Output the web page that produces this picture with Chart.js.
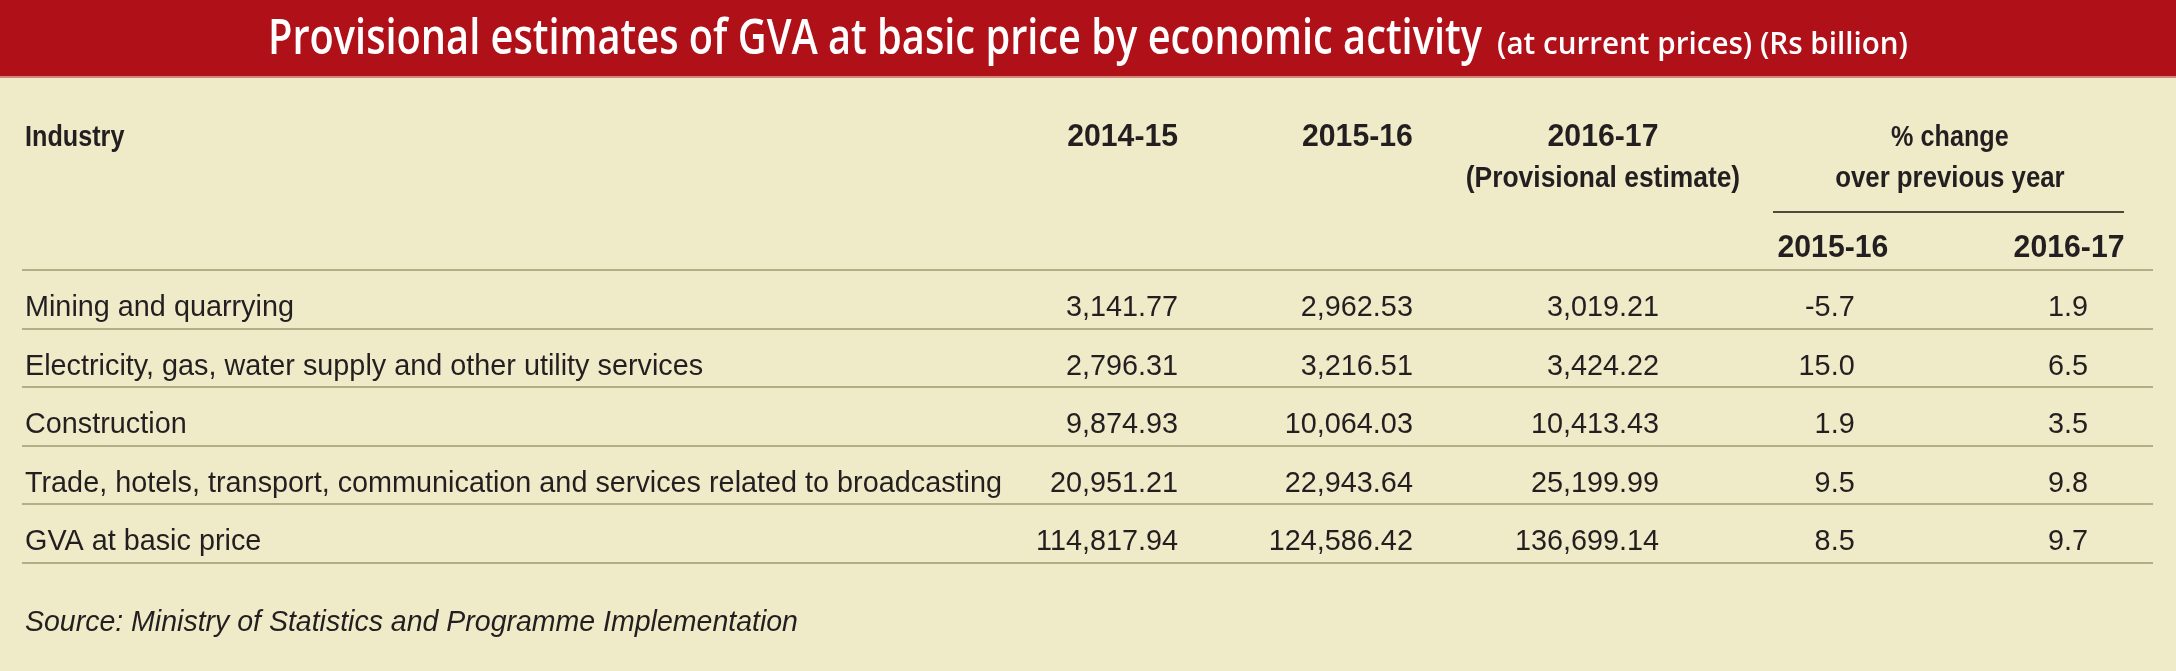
<!DOCTYPE html>
<html lang="en">
<head>
<meta charset="utf-8">
<title>Provisional estimates of GVA at basic price by economic activity</title>
<script src="https://cdn.jsdelivr.net/npm/chart.js@4.4.1/dist/chart.umd.min.js"></script>
<style>
    html, body { margin: 0; padding: 0; background: #efeac8; }
    .chart-box { width: 2176px; height: 671px; position: relative; }
</style>
</head>
<body>
<div class="chart-box"><canvas id="gvaTable"></canvas></div>
<script>
// table data
const industries = [
    'Mining and quarrying',
    'Electricity, gas, water supply and other utility services',
    'Construction',
    'Trade, hotels, transport, communication and services related to broadcasting',
    'GVA at basic price'
];
const gva2014 = [3141.77, 2796.31, 9874.93, 20951.21, 114817.94];
const gva2015 = [2962.53, 3216.51, 10064.03, 22943.64, 124586.42];
const gva2016 = [3019.21, 3424.22, 10413.43, 25199.99, 136699.14];
const change2015 = [-5.7, 15.0, 1.9, 9.5, 8.5];
const change2016 = [1.9, 6.5, 3.5, 9.8, 9.7];
const yearLabels = ['2014-15', '2015-16', '2016-17'];
const changeLabels = ['2015-16', '2016-17'];
const titleMain = 'Provisional estimates of GVA at basic price by economic activity';
const titleUnits = '(at current prices) (Rs billion)';
const sourceText = 'Ministry of Statistics and Programme Implementation';

// column anchors on the x scale (0-100 = table width)
const colPos = {
    industry: 0.14,
    y2014: 54.25,
    y2015: 65.27,
    y2016: 76.82,
    y2016Head: 74.19,
    c2015: 86.0,
    c2015Head: 84.98,
    c2016: 96.95,
    c2016Head: 96.06,
    changeHead: 90.47,
    ruleFrom: 82.17,
    ruleTo: 98.64
};

const INK = '#231f20';
const BODY = '30px "Liberation Sans", Arial, sans-serif';
const HEAD = 'bold 30px "Liberation Sans", Arial, sans-serif';
const HEAD_YEAR = 'bold 31px "Liberation Sans", Arial, sans-serif';
const TITLE_BIG = '600 48px "Open Sans", sans-serif';
const TITLE_SMALL = '600 30px "Open Sans", sans-serif';

function fmtMoney(v) {
    return v.toLocaleString('en-US', { minimumFractionDigits: 2, maximumFractionDigits: 2 });
}

function fmtPct(v) {
    return v.toFixed(1);
}

// text squeezed horizontally to the condensed face of the original
function drawText(ctx, text, x, y, align, font, squash, color) {
    ctx.save();
    ctx.font = font;
    ctx.fillStyle = color || INK;
    ctx.textAlign = align;
    ctx.textBaseline = 'alphabetic';
    ctx.translate(x, y);
    ctx.scale(squash, 1);
    ctx.fillText(text, 0, 0);
    ctx.restore();
}

function textWidth(ctx, text, font) {
    ctx.save();
    ctx.font = font;
    const w = ctx.measureText(text).width;
    ctx.restore();
    return w;
}

// one scatter dataset per table column
function column(pos, texts, align) {
    return {
        data: industries.map(name => ({ x: pos, y: name })),
        cellText: texts,
        cellAlign: align,
        pointRadius: 0,
        pointHoverRadius: 0
    };
}

function buildColumns() {
    return [
        column(colPos.industry, industries, 'left'),
        column(colPos.y2014, gva2014.map(fmtMoney), 'right'),
        column(colPos.y2015, gva2015.map(fmtMoney), 'right'),
        column(colPos.y2016, gva2016.map(fmtMoney), 'right'),
        column(colPos.c2015, change2015.map(fmtPct), 'right'),
        column(colPos.c2016, change2016.map(fmtPct), 'right')
    ];
}

const tablePlugin = {
    id: 'tablePlugin',
    beforeDraw(chart) {
        const ctx = chart.ctx;
        const w = chart.width;
        ctx.save();
        ctx.fillStyle = '#efeac8';
        ctx.fillRect(0, 0, w, chart.height);
        // red title band
        ctx.fillStyle = '#b01018';
        ctx.fillRect(0, 0, w, 76);
        ctx.fillStyle = '#d38577';
        ctx.fillRect(0, 76, w, 2);
        ctx.restore();

        // title in two sizes, each squeezed to the width of the original
        const mainW = 1214, unitsW = 411, gap = 15;
        const sqMain = mainW / textWidth(ctx, titleMain, TITLE_BIG);
        const sqUnits = unitsW / textWidth(ctx, titleUnits, TITLE_SMALL);
        const startX = w / 2 - (mainW + gap + unitsW) / 2;
        drawText(ctx, titleMain, startX, 54, 'left', TITLE_BIG, sqMain, '#ffffff');
        drawText(ctx, titleUnits, startX + mainW + gap, 54, 'left', TITLE_SMALL, sqUnits, '#ffffff');
    },
    afterDatasetsDraw(chart) {
        const ctx = chart.ctx;
        const x = chart.scales.x;
        const top = chart.chartArea.top;
        const bottom = chart.chartArea.bottom;

        // header
        drawText(ctx, 'Industry', x.getPixelForValue(colPos.industry), top - 124, 'left', HEAD, 0.84);
        drawText(ctx, yearLabels[0], x.getPixelForValue(colPos.y2014), top - 124, 'right', HEAD_YEAR, 0.975);
        drawText(ctx, yearLabels[1], x.getPixelForValue(colPos.y2015), top - 124, 'right', HEAD_YEAR, 0.975);
        drawText(ctx, yearLabels[2], x.getPixelForValue(colPos.y2016Head), top - 124, 'center', HEAD_YEAR, 0.975);
        drawText(ctx, '(Provisional estimate)', x.getPixelForValue(colPos.y2016Head), top - 83, 'center', HEAD, 0.88);
        drawText(ctx, '% change', x.getPixelForValue(colPos.changeHead), top - 124, 'center', HEAD, 0.84);
        drawText(ctx, 'over previous year', x.getPixelForValue(colPos.changeHead), top - 83, 'center', HEAD, 0.86);
        drawText(ctx, changeLabels[0], x.getPixelForValue(colPos.c2015Head), top - 13, 'center', HEAD_YEAR, 0.975);
        drawText(ctx, changeLabels[1], x.getPixelForValue(colPos.c2016Head), top - 13, 'center', HEAD_YEAR, 0.975);

        // rule under "% change over previous year"
        ctx.save();
        ctx.strokeStyle = '#4e493a';
        ctx.lineWidth = 2;
        ctx.beginPath();
        ctx.moveTo(x.getPixelForValue(colPos.ruleFrom), top - 58);
        ctx.lineTo(x.getPixelForValue(colPos.ruleTo), top - 58);
        ctx.stroke();
        ctx.restore();

        // body cells at the points placed by the scales
        chart.data.datasets.forEach((ds, i) => {
            chart.getDatasetMeta(i).data.forEach((pt, j) => {
                drawText(ctx, ds.cellText[j], pt.x, pt.y + 17, ds.cellAlign, BODY, 0.96);
            });
        });

        // source line
        const sx = x.getPixelForValue(colPos.industry);
        drawText(ctx, 'Source: ' + sourceText, sx, bottom + 68, 'left', 'italic ' + BODY, 0.95);
    }
};

new Chart(document.getElementById('gvaTable'), {
    type: 'scatter',
    data: { labels: industries, datasets: buildColumns() },
    options: {
        responsive: true,
        maintainAspectRatio: false,
        animation: false,
        events: [],
        layout: { padding: { top: 270, bottom: 108.5, left: 22, right: 23 } },
        plugins: {
            legend: { display: false },
            tooltip: { enabled: false },
            title: { display: false }
        },
        scales: {
            x: { type: 'linear', min: 0, max: 100, display: false },
            y: {
                type: 'category',
                labels: industries,
                offset: true,
                ticks: { display: false },
                border: { display: false },
                grid: { offset: true, drawTicks: false, color: '#b3ae86', lineWidth: 2 }
            }
        }
    },
    plugins: [tablePlugin]
});
</script>
</body>
</html>
